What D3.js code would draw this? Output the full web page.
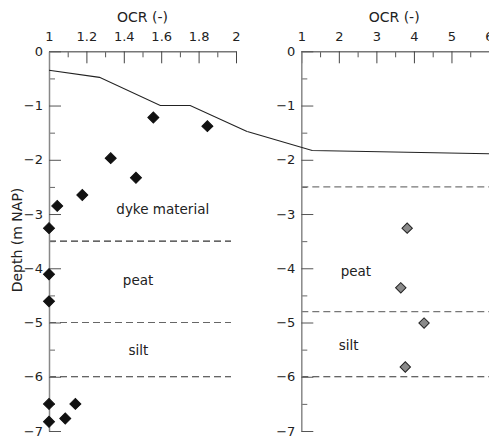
<!DOCTYPE html>
<html>
<head>
<meta charset="utf-8">
<script src="https://cdn.jsdelivr.net/npm/d3@7"></script>
<style>
  html, body { margin: 0; padding: 0; background: #fff; }
  svg { display: block; }
  text { font-family: "DejaVu Sans", Verdana, sans-serif; fill: #222; }
</style>
</head>
<body>
<svg id="chart" width="489" height="439"></svg>
<script>
// ---------- data ----------
const xTicksLeft = [1, 1.2, 1.4, 1.6, 1.8, 2];
const xTicksRight = [1, 2, 3, 4, 5, 6];
const yTicks = [0, -1, -2, -3, -4, -5, -6, -7];

// OCR measurements, dyke (left panel)
const leftOCR   = [1.558, 1.847, 1.330, 1.465, 1.178, 1.044, 1.0, 1.0, 1.0, 1.0, 1.141, 1.087, 1.0];
const leftDepth = [-1.22, -1.38, -1.97, -2.33, -2.65, -2.85, -3.26, -4.11, -4.61, -6.50, -6.50, -6.77, -6.83];

// OCR measurements, polder (right panel)
const rightOCR   = [3.82, 3.65, 4.27, 3.77];
const rightDepth = [-3.26, -4.36, -5.01, -5.82];

// phreatic line (left part in left-panel units, right part in right-panel units)
const lineLeftOCR   = [1.0, 1.27, 1.595, 1.755, 2.059];
const lineLeftDepth = [-0.35, -0.48, -1.0, -1.0, -1.48];
const lineRightOCR   = [-0.44, 1.29, 6.0];
const lineRightDepth = [-1.48, -1.83, -1.89];

// layer boundaries
const leftBounds  = [-3.5, -5.0, -6.0];
const rightBounds = [-2.5, -4.8, -6.0];

// layer labels
const leftLabels  = [{t: "dyke material", x: 1.36, y: -3.0}, {t: "peat", x: 1.395, y: -4.3}, {t: "silt", x: 1.425, y: -5.6}];
const rightLabels = [{t: "peat", x: 2.05, y: -4.15}, {t: "silt", x: 2.0, y: -5.5}];

// ---------- drawing ----------
const svg = d3.select("#chart");
svg.append("rect").attr("width", 489).attr("height", 439).attr("fill", "#fff");

const y = d3.scaleLinear().domain([0, -7]).range([51.3, 431]);
const xL = d3.scaleLinear().domain([1, 2]).range([49, 236]);
const xR = d3.scaleLinear().domain([1, 6]).range([301.3, 489]);

function minorTicks(ticks) {
  const out = [];
  for (let i = 0; i < ticks.length - 1; i++) out.push((ticks[i] + ticks[i + 1]) / 2);
  return out;
}

function panel(x, xTicks, bounds, boundColors, dashEnd, ptsX, ptsY, fill, stroke, r, labels, lx, ly) {
  const g = svg.append("g");
  const x0 = x.range()[0];
  const yTop = y.range()[0];

  // dashed layer boundaries
  g.selectAll("line.bound").data(bounds).join("line")
    .attr("x1", x0).attr("x2", dashEnd)
    .attr("y1", d => y(d)).attr("y2", d => y(d))
    .attr("stroke", (d, i) => boundColors[i]).attr("stroke-width", 1.2)
    .attr("stroke-dasharray", "7,4");

  // top axis (minor)
  g.append("g").attr("transform", `translate(0,${yTop})`)
    .call(d3.axisTop(x).tickValues(minorTicks(xTicks)).tickSizeInner(-6).tickSizeOuter(0).tickFormat(""))
    .call(a => a.select(".domain").remove())
    .call(a => a.selectAll("line").attr("stroke", "#555"));
  // top axis (major)
  g.append("g").attr("transform", `translate(0,${yTop})`)
    .call(d3.axisTop(x).tickValues(xTicks).tickSizeInner(-12).tickSizeOuter(0).tickPadding(10).tickFormat(d3.format("~g")))
    .call(a => a.select(".domain").attr("stroke", "#777").attr("stroke-width", 1.5))
    .call(a => a.selectAll("line").attr("stroke", "#444"))
    .call(a => a.selectAll("text").attr("font-size", 13).attr("font-family", "DejaVu Sans").attr("fill", "#222"));

  // left axis (minor)
  g.append("g").attr("transform", `translate(${x0},0)`)
    .call(d3.axisLeft(y).tickValues(minorTicks(yTicks)).tickSizeInner(-6).tickSizeOuter(0).tickFormat(""))
    .call(a => a.select(".domain").remove())
    .call(a => a.selectAll("line").attr("stroke", "#666"));
  // left axis (major)
  g.append("g").attr("transform", `translate(${x0},0)`)
    .call(d3.axisLeft(y).tickValues(yTicks).tickSizeInner(-12).tickSizeOuter(0).tickPadding(6).tickFormat(d3.format("d")))
    .call(a => a.select(".domain").attr("stroke", "#888").attr("stroke-width", 1.5))
    .call(a => a.selectAll("line").attr("stroke", "#555"))
    .call(a => a.selectAll("text").attr("font-size", 13).attr("font-family", "DejaVu Sans").attr("fill", "#222"));

  // phreatic line
  const line = d3.line().x(d => x(d[0])).y(d => y(d[1]));
  g.append("path").datum(d3.zip(lx, ly)).attr("d", line)
    .attr("fill", "none").attr("stroke", "#222").attr("stroke-width", 1.1);

  // diamonds
  const sym = d3.symbol().type(d3.symbolSquare).size(2 * r * r);
  g.selectAll("path.pt").data(d3.zip(ptsX, ptsY)).join("path")
    .attr("transform", d => `translate(${x(d[0])},${y(d[1])}) rotate(45)`)
    .attr("d", sym).attr("fill", fill).attr("stroke", stroke).attr("stroke-width", 1);

  // layer labels
  g.selectAll("text.lbl").data(labels).join("text")
    .attr("x", d => x(d.x)).attr("y", d => y(d.y))
    .attr("font-size", 13.5).text(d => d.t);

  // x title
  g.append("text")
    .attr("x", (x.range()[0] + Math.min(x.range()[1], 489)) / 2 + (x === xL ? 0 : -1))
    .attr("y", 22).attr("text-anchor", "middle").attr("font-size", 14).text("OCR (-)");
}

panel(xL, xTicksLeft, leftBounds, ["#333", "#666", "#333"], 231,
      leftOCR, leftDepth, "#111", "#111", 5.5, leftLabels, lineLeftOCR, lineLeftDepth);
panel(xR, xTicksRight, rightBounds, ["#777", "#777", "#333"], 489,
      rightOCR, rightDepth, "#8a8a8a", "#222", 5.2, rightLabels, lineRightOCR, lineRightDepth);

// y title
svg.append("text")
  .attr("transform", "translate(17,240) rotate(-90)")
  .attr("text-anchor", "middle").attr("dominant-baseline", "central")
  .attr("font-size", 14).text("Depth (m NAP)");
</script>
</body>
</html>
